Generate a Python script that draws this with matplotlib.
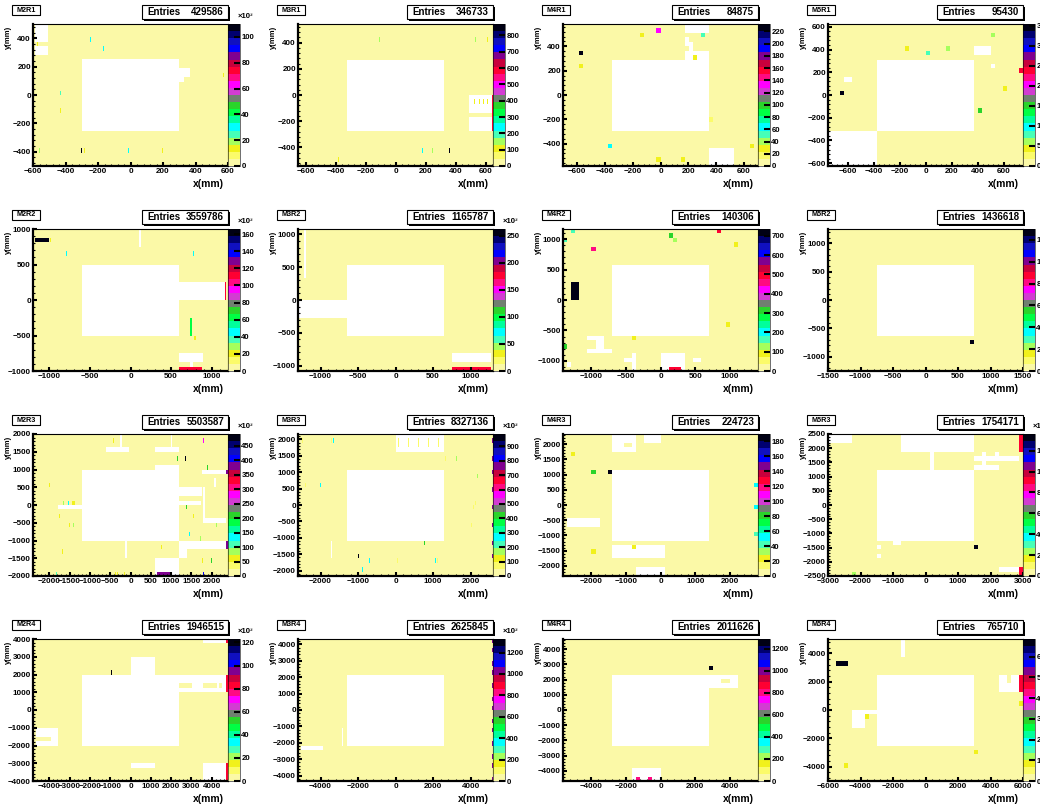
import numpy as np
import matplotlib
matplotlib.use("Agg")
import matplotlib.pyplot as plt
from matplotlib.colors import ListedColormap, Normalize
from matplotlib.patches import Rectangle
from matplotlib.ticker import MultipleLocator, AutoMinorLocator, FormatStrFormatter

plt.rcParams["font.family"] = ["Liberation Sans", "DejaVu Sans"]
plt.rcParams["font.weight"] = "bold"

# ---- panel data (row-major, 4x4) ----
names = ["M2R1", "M3R1", "M4R1", "M5R1",
         "M2R2", "M3R2", "M4R2", "M5R2",
         "M2R3", "M3R3", "M4R3", "M5R3",
         "M2R4", "M3R4", "M4R4", "M5R4"]
entries = [429586, 346733, 84875, 95430,
           3559786, 1165787, 140306, 1436618,
           5503587, 8327136, 224723, 1754171,
           1946515, 2625845, 2011626, 765710]
x_half = [600, 650, 700, 750, 1200, 1300, 1400, 1500,
          2400, 2600, 2800, 3000, 4800, 5200, 5600, 6000]
y_half = [500, 542, 583, 625, 1000, 1083, 1167, 1250,
          2000, 2167, 2333, 2500, 4000, 4333, 4667, 5000]
x_step = [200, 200, 200, 200, 500, 500, 500, 500,
          500, 1000, 1000, 1000, 1000, 2000, 2000, 2000]
y_step = [200, 200, 200, 200, 500, 500, 500, 500,
          500, 500, 500, 500, 1000, 1000, 1000, 2000]
n_xbins = [192, 192, 48, 48, 192, 192, 48, 48,
           192, 192, 48, 48, 192, 192, 48, 48]
n_ybins = [32] * 16
z_max = [110, 870, 232, 355, 166, 262, 735, 1300,
         490, 985, 190, 136, 123, 1327, 1290, 685]
z_step = [20, 100, 20, 50, 20, 50, 100, 200,
          50, 100, 20, 20, 20, 200, 200, 100]
z_exp = [True, False, False, False, True, True, False, False,
         True, True, False, True, True, True, False, False]
bg_level = [2, 15, 4, 6, 3, 5, 12, 25, 8, 18, 3, 2.5, 2, 25, 25, 12]

# dead (empty) regions: x0, x1, y0, y1 in mm
m2r1_dead = [(-300, 300, -250, 250), (-585, -508, 376, 500), (-585, -508, 281, 340),
             (300, 366, 136, 190), (300, 329, 93, 124)]
m3r1_dead = [(-325, 325, -271, 271), (490, 641, -140, -8), (490, 641, -272, -173)]
m4r1_dead = [(-350, 350, -292, 292), (163, 354, 510, 583), (163, 194, 411, 466),
             (210, 240, 411, 438), (194, 228, 370, 398), (163, 354, 290, 371),
             (347, 516, -583, -447)]
m5r1_dead = [(-375, 375, -312, 312), (-750, -375, -625, -312), (375, 490, 350, 420),
             (495, 515, 245, 260), (-627, -570, 117, 147)]
m2r2_dead = [(-600, 600, -500, 500), (600, 1170, 0, 250), (105, 130, 750, 1000),
             (600, 890, -880, -765), (738, 779, -950, -880)]
m3r2_dead = [(-650, 650, -542, 542), (-1300, -650, -265, -20), (-1215, -1195, 370, 1083),
             (760, 1275, -975, -780)]
m4r2_dead = [(-700, 700, -583, 583), (-1042, -804, -654, -589), (-937, -804, -807, -654),
             (-1042, -708, -872, -807), (-518, -365, -1025, -954), (-413, -365, -1134, -889),
             (0, 336, -1167, -890), (470, 565, -1025, -954), (-1343, -1285, -1080, -1025)]
m5r2_dead = [(-750, 750, -625, 625)]
m2r3_dead = [(-1200, 1200, -1000, 1000), (-240, -190, 1600, 2000), (-590, -20, 1500, 1600),
             (990, 1030, 1600, 2000), (600, 1190, 1500, 1600), (600, 1200, 1000, 1125),
             (1760, 2340, 890, 985), (1200, 1760, 230, 470), (1200, 1720, 14, 136),
             (1765, 1830, -430, 470), (1780, 2340, -500, -380), (2060, 2090, 470, 720),
             (-1765, -1190, -150, -20), (1200, 2340, -1275, -1040), (1200, 1400, -1510, -1275),
             (600, 1200, -2000, -1540), (-115, -80, -1510, -1010)]
m3r3_dead = [(-1300, 1300, -1083, 1083), (0, 1300, 1625, 2167), (-1745, -1700, -1640, -1130)]
m4r3_dead = [(-1400, 1400, -1167, 1167), (-1393, -700, 1700, 2333), (-500, -14, 2000, 2333),
             (-2714, -1795, -690, -427), (-1393, 130, -1807, -1314), (-700, 80, -2333, -2100)]
m5r3_dead = [(-1500, 1500, -1250, 1250), (-2950, -2280, 2200, 2500), (-770, 1460, 1880, 2500),
             (120, 240, 1250, 1880), (1500, 2920, 1560, 1680), (1500, 2200, 1255, 1410),
             (1835, 1910, 1250, 1880), (2090, 2180, 1560, 1880), (-1000, -790, -1450, -1250),
             (-1500, -1400, -1560, -1450), (-1500, -1400, -1880, -1760),
             (2250, 2920, -2410, -2265)]
m2r4_dead = [(-2400, 2400, -2000, 2000), (0, 1200, 2000, 3000), (3530, 4680, 3750, 4000),
             (2400, 4680, 1000, 2000), (-4640, -3575, -2080, -1080), (0, 1200, -3300, -3075),
             (3530, 4680, -4000, -3110)]
m3r4_dead = [(-2600, 2600, -2167, 2167), (-5020, -3860, -2500, -2290),
             (-2880, -2790, -2190, -1130)]
m4r4_dead = [(-2800, 2800, -2333, 2333), (2800, 4340, 1580, 2333),
             (-1579, -28, -4667, -3900)]
m5r4_dead = [(-3000, 3000, -2500, 2500), (-1515, -1330, 3750, 5000), (4500, 5835, 1280, 2460),
             (-4520, -3000, -370, -80), (-4520, -3840, -1260, -370)]

# filled cells: (x, y, value) or (x0, x1, y0, y1, value)
m2r1_hot = [(-247, -247, 371, 404, 30), (-165, -165, 310, 340, 30), (-427, -427, -5, 27, 25),
            (-427, -427, -130, -95, 13), (-570, -570, 340, 375, 13), (-559, -559, -416, -388, 18),
            (-300, -300, -416, -388, 108), (-284, -284, -416, -388, 13), (-8, -8, -416, -388, 30),
            (196, 196, -416, -388, 13), (575, 575, 124, 147, 13)]
m3r1_hot = [(523, -35, 90), (556, -35, 90), (585, -35, 90), (612, -35, 90),
            (642, 650, -272, -10, 590), (-103, 420, 150), (530, 420, 150), (612, 420, 100),
            (181, -435, 240), (248, -435, 150), (360, -435, 860), (-382, -505, 100)]
m4r1_hot = [(240, 312, 28), (300, 493, 52), (-132, 493, 29), (-18, 527, 135), (-569, 343, 230),
            (-569, 231, 29), (354, -197, 20), (-367, -423, 65), (652, -423, 25), (-20, -540, 29),
            (154, -540, 29)]
m5r1_hot = [(504, 525, 60), (-152, 403, 43), (2, 366, 80), (163, 410, 60), (-647, 16, 350),
            (596, 51, 43), (414, -145, 150), (737, 208, 240)]
m2r2_hot = [(-1180, -996, 813, 883, 163), (-975, 848, 20), (-788, 660, 46), (781, 660, 46),
            (1158, 1180, 9, 243, 113), (742, 767, -505, -248, 62), (800, -540, 20),
            (595, 880, -1000, -970, 113)]
m3r2_hot = [(760, 1275, -1083, -1050, 178)]
m4r2_hot = [(-1252, 1135, 162), (832, 1135, 500), (136, 1063, 294), (196, 987, 125),
            (-966, 837, 455), (1071, 910, 88), (-1280, -1166, 11, 283, 735), (951, -403, 88),
            (-393, -616, 88), (-1390, -752, 294), (-1390, 965, 162), (88, 279, -1167, -1140, 500)]
m5r2_hot = [(731, -743, 1300)]
m2r3_hot = [(1780, 1800, 285), (-400, 1800, 60), (1175, 1360, 196), (1371, 1360, 490),
            (1886, 1050, 196), (2350, 2400, 870, 984, 370), (-1976, 540, 60), (-1625, 20, 85),
            (-1543, 20, 135), (-1461, -1380, 20, 20, 60), (1396, -60, 196), (-1730, -360, 60),
            (-1518, -570, 60), (-1404, -570, 85), (1575, -370, 60), (2106, -570, 85),
            (1453, -855, 135), (1722, -940, 85), (2350, 2400, -1230, -1060, 370), (767, -1200, 60),
            (-1665, -1360, 60), (1763, -1600, 60), (1984, -1600, 196), (-1812, -1880, 110),
            (-360, -1880, 60), (-300, -1880, 60), (-130, -1880, 60),
            (660, 1030, -2000, -1980, 370), (1780, -1930, 400)]
m3r3_hot = [(58, 58, 1800, 2085, 74), (329, 329, 1800, 2085, 74), (599, 599, 1800, 2085, 74),
            (870, 870, 1800, 2085, 74), (1140, 1140, 1800, 2085, 74),
            (2590, 1983, 770), (2590, 1473, 770), (2590, 963, 770), (2590, 453, 770),
            (2590, -57, 770), (2590, -567, 770), (2590, -1179, 770), (2590, -1587, 770),
            (-2483, 1950, 80), (-1726, 1950, 80), (-1654, 1950, 265), (1347, 1400, 80),
            (1636, 1400, 170), (2176, 880, 170), (-2393, 560, 80), (-1987, 560, 265),
            (2131, 100, 80), (2059, -130, 80), (2030, -620, 80), (761, -1200, 394),
            (-996, -996, -1688, -1433, 985), (-680, -1700, 265), (40, -1700, 80),
            (1077, -1700, 265), (1122, -1700, 80), (-888, -2000, 265)]
m4r3_hot = [(-1100, -800, 1900, 2100, 3), (-2513, 1709, 24), (-1910, 1150, 80),
            (-1479, 1084, 190), (-1910, -1544, 24), (-761, -1413, 24), (2743, 657, 52),
            (2743, 0, 52), (2700, -1000, 40)]
m5r3_hot = [(2930, 3000, 1880, 2500, 92), (1517, -1515, 136), (-2125, -2450, 23),
            (2930, 3000, -2500, -2265, 92)]
m2r4_hot = [(2400, 3040, 1220, 1460, 2), (3530, 4260, 1220, 1460, 2), (4345, 4480, 1220, 1460, 2),
            (-4640, -3900, -1700, -1550, 2), (4700, 4800, 3750, 4000, 84),
            (4700, 4800, 1000, 2000, 84), (-930, 2100, 123), (4700, 4800, -4000, -3110, 84)]
m3r4_hot = [(5180, 4068, 1035), (5180, 3558, 1035), (5180, 2946, 1035), (5180, 2233, 1035),
            (5180, 1519, 1035), (5180, 806, 1035), (5180, 92, 1035), (5180, -622, 1035),
            (5180, -1335, 1035), (5180, -2151, 1035), (5180, -2763, 1035), (5180, -3476, 1035),
            (5180, -4088, 1035)]
m4r4_hot = [(2844, 2761, 1290), (3500, 4000, 1800, 2100, 25), (-1200, -4500, 820),
            (-600, -4500, 820)]
m5r4_hot = [(4910, 5170, 1880, 2460, 12), (-5588, -4868, 3094, 3353, 685),
            (5840, 6000, 1280, 2460, 466), (5834, 400, 82), (-3695, -517, 82),
            (3035, -3070, 82), (-4971, -4035, 82)]

dead_regions = [m2r1_dead, m3r1_dead, m4r1_dead, m5r1_dead,
                m2r2_dead, m3r2_dead, m4r2_dead, m5r2_dead,
                m2r3_dead, m3r3_dead, m4r3_dead, m5r3_dead,
                m2r4_dead, m3r4_dead, m4r4_dead, m5r4_dead]
hot_cells = [m2r1_hot, m3r1_hot, m4r1_hot, m5r1_hot,
             m2r2_hot, m3r2_hot, m4r2_hot, m5r2_hot,
             m2r3_hot, m3r3_hot, m4r3_hot, m5r3_hot,
             m2r4_hot, m3r4_hot, m4r4_hot, m5r4_hot]

palette = ["#fbf9a7", "#fbfb6a", "#f1f11c", "#a5ff5c", "#46ffb8", "#00ffff", "#00ff9c",
           "#00ff44", "#2ad42a", "#708070", "#d23cd2", "#ff00ff", "#ff0a82", "#ff0032",
           "#c8003c", "#800090", "#0000ff", "#1010c0", "#000070", "#000014"]
cmap = ListedColormap(palette)
cmap.set_bad("white")

W, H = 1040, 806
col_left = [33, 298, 563, 828]
row_top = [24, 229, 434, 639]
ax_w, ax_h, cb_w = 195, 142, 12


def paint(grid, xe, ye, box, value):
    x0, x1, y0, y1 = box
    xc = 0.5 * (xe[1:] + xe[:-1])
    yc = 0.5 * (ye[1:] + ye[:-1])
    ix = np.where((xc >= x0) & (xc <= x1))[0]
    if ix.size == 0:
        ix = [np.clip(np.searchsorted(xe, 0.5 * (x0 + x1)) - 1, 0, xc.size - 1)]
    iy = np.where((yc >= y0) & (yc <= y1))[0]
    if iy.size == 0:
        iy = [np.clip(np.searchsorted(ye, 0.5 * (y0 + y1)) - 1, 0, yc.size - 1)]
    grid[np.ix_(iy, ix)] = value


def box_px(x, y, w, h, **kw):
    # rectangle given in figure pixels (top-left origin)
    return Rectangle((x / W, 1 - (y + h) / H), w / W, h / H,
                     transform=fig.transFigure, **kw)


fig = plt.figure(figsize=(W / 100, H / 100), dpi=100)

for i, name in enumerate(names):
    r, c = divmod(i, 4)
    L, T = col_left[c], row_top[r]
    xh, yh = x_half[i], y_half[i]

    xe = np.linspace(-xh, xh, n_xbins[i] + 1)
    ye = np.linspace(-yh, yh, n_ybins[i] + 1)
    grid = np.full((n_ybins[i], n_xbins[i]), float(bg_level[i]))
    for d in dead_regions[i]:
        paint(grid, xe, ye, d, 0.0)
    for h in hot_cells[i]:
        if len(h) == 3:
            paint(grid, xe, ye, (h[0], h[0], h[1], h[1]), h[2])
        else:
            paint(grid, xe, ye, h[:4], h[4])

    ax = fig.add_axes([L / W, 1 - (T + ax_h) / H, ax_w / W, ax_h / H])
    mesh = ax.pcolormesh(xe, ye, np.ma.masked_equal(grid, 0), cmap=cmap,
                         norm=Normalize(0, z_max[i]), shading="flat",
                         edgecolors="none", antialiased=False)
    ax.set_xlim(-xh, xh)
    ax.set_ylim(-yh, yh)
    ax.xaxis.set_major_locator(MultipleLocator(x_step[i]))
    ax.yaxis.set_major_locator(MultipleLocator(y_step[i]))
    ax.xaxis.set_minor_locator(AutoMinorLocator(5))
    ax.yaxis.set_minor_locator(AutoMinorLocator(5))
    ax.tick_params(which="major", direction="in", length=3, width=1.5,
                   labelsize=5.8, pad=1.5, top=False, right=False)
    ax.tick_params(which="minor", direction="in", length=1.5, width=0.8,
                   top=False, right=False)
    for lab in ax.get_xticklabels() + ax.get_yticklabels():
        lab.set_fontweight("bold")
    for s in ["left", "bottom"]:
        ax.spines[s].set_linewidth(1.6)
    for s in ["top", "right"]:
        ax.spines[s].set_linewidth(0.8)

    cax = fig.add_axes([(L + ax_w) / W, 1 - (T + ax_h) / H, cb_w / W, ax_h / H])
    cb = fig.colorbar(mesh, cax=cax, ticks=np.arange(0, z_max[i], z_step[i]))
    cb.outline.set_linewidth(0.4)
    cb.ax.yaxis.set_major_formatter(FormatStrFormatter("%d"))
    cb.ax.tick_params(direction="in", length=4, width=1.5, labelsize=5.6, pad=1)
    for lab in cb.ax.get_yticklabels():
        lab.set_fontweight("bold")
    if z_exp[i]:
        fig.text((L + ax_w + cb_w - 2) / W, 1 - (T - 4) / H, "\u00d710\u00b3",
                 fontsize=5.6, ha="left", va="bottom")

    # x / y axis titles
    fig.text((L + ax_w - 4) / W, 1 - (T + ax_h + 18) / H, "x(mm)",
             fontsize=7.5, fontweight="bold", ha="right", va="center")
    fig.text((L - 21) / W, 1 - (T + 2) / H, "y(mm)", fontsize=5.5,
             fontweight="bold", rotation=90, ha="right", va="top")

    # title box
    fig.patches.append(box_px(L - 20, T - 18, 28, 10, facecolor="black",
                              edgecolor="black", lw=0))
    fig.patches.append(box_px(L - 21, T - 19, 28, 10, facecolor="white",
                              edgecolor="black", lw=0.8))
    fig.text((L - 7) / W, 1 - (T - 14) / H, name, fontsize=5.2,
             fontweight="bold", ha="center", va="center")

    # stats box
    sx0, sw = L + ax_w - 86, 86
    fig.patches.append(box_px(sx0 + 2, T - 17, sw, 14, facecolor="black",
                              edgecolor="black", lw=0))
    fig.patches.append(box_px(sx0, T - 19, sw, 14, facecolor="white",
                              edgecolor="black", lw=0.8))
    fig.text((sx0 + 5) / W, 1 - (T - 12) / H, "Entries", fontsize=7,
             fontweight="bold", ha="left", va="center")
    fig.text((sx0 + sw - 4) / W, 1 - (T - 12) / H, str(entries[i]), fontsize=7,
             fontweight="bold", ha="right", va="center")

fig.savefig("out.png", dpi=100)
